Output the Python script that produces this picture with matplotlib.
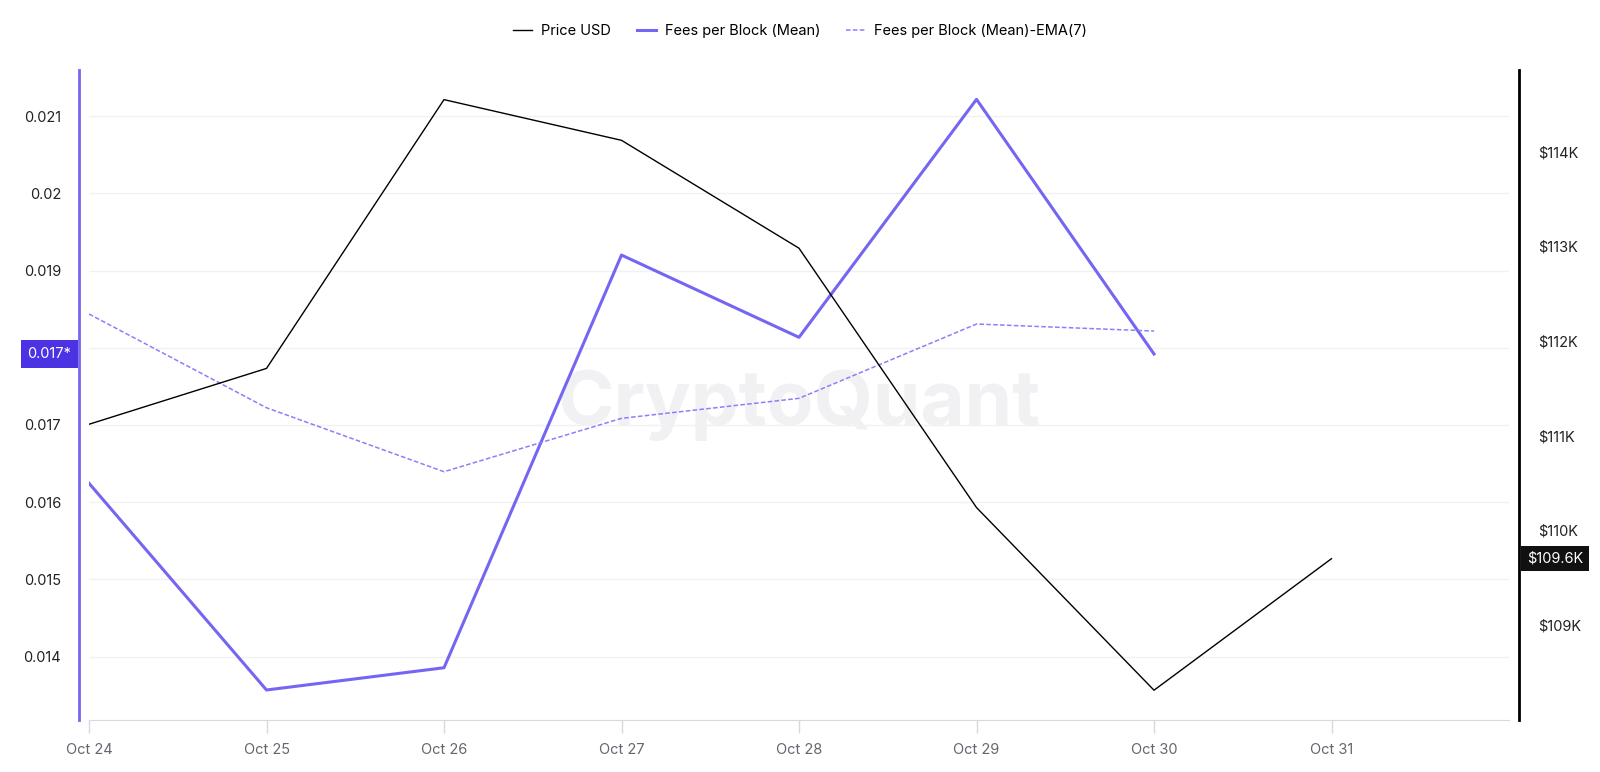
import pandas as pd
import matplotlib.pyplot as plt
import matplotlib.dates as mdates
from matplotlib.ticker import FixedLocator, FuncFormatter

plt.rcParams['font.family'] = ['Inter', 'DejaVu Sans']

# Data
dates = ['2025-10-24', '2025-10-25', '2025-10-26', '2025-10-27',
         '2025-10-28', '2025-10-29', '2025-10-30', '2025-10-31']
price_usd = [111120, 111710, 114550, 114120, 112980, 110240, 108310, 109700]
fees_mean = [0.016245, 0.013569, 0.013857, 0.019200, 0.018135, 0.021216, 0.017919]
fees_ema7 = [0.018437, 0.017223, 0.016395, 0.017086, 0.017345, 0.018307, 0.018216]

left_ticks = [0.014, 0.015, 0.016, 0.017, 0.018, 0.019, 0.02, 0.021]
left_labels = ['0.014', '0.015', '0.016', '0.017', '', '0.019', '0.02', '0.021']
right_ticks = [109000, 110000, 111000, 112000, 113000, 114000]

x = pd.to_datetime(dates)
x_fees = x[:len(fees_mean)]

purple = '#7466f2'
purple_dark = '#4b32e3'

fig = plt.figure(figsize=(16, 7.72), dpi=100)
ax = fig.add_axes([0.05563, 0.06671, 0.8875, 0.84262])
ax2 = ax.twinx()

# Fees lines on the left axis
l2, = ax.plot(x_fees, fees_mean, color=purple, lw=2.2, zorder=3,
              label='Fees per Block (Mean)')
l3, = ax.plot(x_fees, fees_ema7, color='#8a80fa', lw=1.1, ls=(0, (3, 1.5)),
              zorder=3, label='Fees per Block (Mean)-EMA(7)')
# Price on the right axis
l1, = ax2.plot(x, price_usd, color='black', lw=1.0, label='Price USD')

ax.set_xlim(pd.Timestamp('2025-10-24'), pd.Timestamp('2025-11-01'))
ax.set_ylim(0.013174, 0.021596)
ax2.set_ylim(107990, 114863)

# watermark
ax.text(0.5, 0.485, 'CryptoQuant', transform=ax.transAxes, ha='center', va='center',
        fontsize=55, fontweight='bold', color='#f1f1f3', zorder=0)

# grid
ax.yaxis.set_major_locator(FixedLocator(left_ticks))
ax.set_yticklabels(left_labels)
ax.grid(axis='y', color='#f1f1f1', lw=1)
ax.set_axisbelow(True)

ax.xaxis.set_major_locator(mdates.DayLocator(bymonthday=range(24, 32)))
ax.xaxis.set_major_formatter(mdates.DateFormatter('%b %-d'))
ax.tick_params(axis='x', colors='#d8d8e0', length=9, width=1, labelcolor='#666670',
               labelsize=10.5, pad=7)
ax.tick_params(axis='y', length=0, labelsize=10.5, labelcolor='#222222', pad=13)

ax2.yaxis.set_major_locator(FixedLocator(right_ticks))
ax2.yaxis.set_major_formatter(FuncFormatter(lambda v, p: f'${v/1000:.0f}K'))
ax2.tick_params(axis='y', length=0, labelsize=10.5, labelcolor='#222222', pad=14)

for a in (ax, ax2):
    a.spines['top'].set_visible(False)
ax.spines['right'].set_visible(False)
ax2.spines['left'].set_visible(False)
ax2.spines['bottom'].set_visible(False)
ax.spines['left'].set_position(('outward', 7))
ax.spines['left'].set_color(purple)
ax.spines['left'].set_linewidth(2)
ax.spines['bottom'].set_color('#d8d8e0')
ax2.spines['right'].set_position(('outward', 7))
ax2.spines['right'].set_color('black')
ax2.spines['right'].set_linewidth(2)

# last value markers on the axes
ax.annotate('0.017*', xy=(0, fees_mean[-1]), xycoords=('axes fraction', 'data'),
            xytext=(-28.5, 0), textcoords='offset points', ha='center', va='center',
            fontsize=10.5, color='white', annotation_clip=False, zorder=10,
            bbox=dict(boxstyle='square,pad=0.45', fc=purple_dark, ec='none'))
ax2.annotate('$109.6K', xy=(1, price_usd[-1]), xycoords=('axes fraction', 'data'),
             xytext=(33, 0), textcoords='offset points', ha='center', va='center',
             fontsize=10.5, color='white', annotation_clip=False, zorder=10,
             bbox=dict(boxstyle='square,pad=0.4', fc='#111111', ec='none'))

fig.legend(handles=[l1, l2, l3], loc='center', bbox_to_anchor=(0.5, 1 - 30.7 / 772),
           ncol=3, frameon=False, fontsize=10.5, handlelength=1.3, handletextpad=0.6,
           columnspacing=1.8)

fig.savefig('out.png', dpi=100)
